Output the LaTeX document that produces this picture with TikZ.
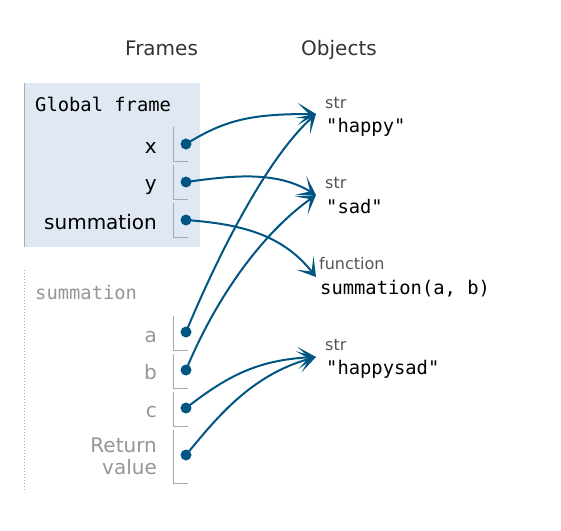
\documentclass[tikz,border=0pt]{standalone}
\usepackage{fontspec}
\setmainfont{DejaVu Sans}
\setmonofont{DejaVu Sans Mono}
\usetikzlibrary{arrows.meta}
\definecolor{myptr}{RGB}{0,85,131}
\definecolor{myframe}{RGB}{224,232,243}
\definecolor{myrule}{RGB}{170,170,170}
\definecolor{mygray}{RGB}{150,150,150}
\definecolor{mytype}{RGB}{85,85,85}
\definecolor{myhead}{RGB}{51,51,51}

\begin{document}
\begin{tikzpicture}[x=1pt,y=-1pt,
  ptr/.style={circle,fill=myptr,inner sep=0pt,minimum size=11pt},
  link/.style={myptr,line width=2pt,-{Stealth[length=18pt,width=22pt,inset=11pt]}},
  hdr/.style={font=\fontsize{20}{24}\selectfont,text=myhead,anchor=base west,inner sep=0pt},
  var/.style={font=\fontsize{20}{24}\selectfont,anchor=base east,inner sep=0pt},
  typ/.style={font=\fontsize{16}{19}\selectfont,text=mytype,anchor=base west,inner sep=0pt},
  val/.style={font=\ttfamily\fontsize{18.8}{22}\selectfont,anchor=base west,inner sep=0pt}]
  \useasboundingbox (0,0) rectangle (561,530);
  \node[hdr] (frames) at (125,55) {Frames};
  \node[hdr] (objects) at (301,55) {Objects};
  % global frame
  \fill[myframe] (25,83) rectangle (200,247);
  \draw[myrule,line width=1pt] (24.5,83) -- (24.5,247);
  \node[val] (gtitle) at (35,111) {Global frame};
  \node[var] (lx) at (157,153) {x};
  \node[var] (ly) at (157,190) {y};
  \node[var] (ls) at (157,229) {summation};
  % summation frame
  \draw[myrule,line width=1pt,dotted] (24.5,270) -- (24.5,492);
  \node[val,text=mygray] (ftitle) at (35,299) {summation};
  \node[var,text=mygray] (la) at (157,342) {a};
  \node[var,text=mygray] (lb) at (157,379) {b};
  \node[var,text=mygray] (lc) at (157,417) {c};
  \node[var,anchor=east,align=right,text=mygray,font=\fontsize{20}{22}\selectfont] (lr) at (157,456) {Return\\value};
  % value boxes
  \foreach \top/\bot in {127/161,165/199,203/237,316/350,354/388,392/426,430/483}
    \draw[myrule,line width=1pt] (173,\top) -- (173,\bot) -- (188,\bot);
  \node[ptr] (px) at (186,144) {};
  \node[ptr] (py) at (186,182) {};
  \node[ptr] (ps) at (186,220) {};
  \node[ptr] (pa) at (186,332) {};
  \node[ptr] (pb) at (186,370) {};
  \node[ptr] (pc) at (186,408) {};
  \node[ptr] (pr) at (186,455) {};
  % objects
  \node[typ] (t1) at (325,108) {str};
  \node[val] (happy) at (326,132) {"happy"};
  \node[typ] (t2) at (325,188) {str};
  \node[val] (sad) at (326,213) {"sad"};
  \node[typ] (t3) at (319,269) {function};
  \node[val] (func) at (320,294) {summation(a, b)};
  \node[typ] (t4) at (325,350) {str};
  \node[val] (hs) at (326,374) {"happysad"};
  \coordinate (inhappy) at (316,114);
  \coordinate (insad) at (316,195);
  \coordinate (infunc) at (316,277);
  \coordinate (inhs) at (316,357);
  % pointers
  \draw[link] (px.center) .. controls (225,120) and (250,114) .. (inhappy);
  \draw[link] (py.center) .. controls (230,176) and (275,170) .. (insad);
  \draw[link] (ps.center) .. controls (240,224) and (282,234) .. (infunc);
  \draw[link] (pa.center) .. controls (215,262) and (265,160) .. (inhappy);
  \draw[link] (pb.center) .. controls (215,300) and (260,235) .. (insad);
  \draw[link] (pc.center) .. controls (225,378) and (255,360) .. (inhs);
  \draw[link] (pr.center) .. controls (215,420) and (250,375) .. (inhs);
\end{tikzpicture}
\end{document}
